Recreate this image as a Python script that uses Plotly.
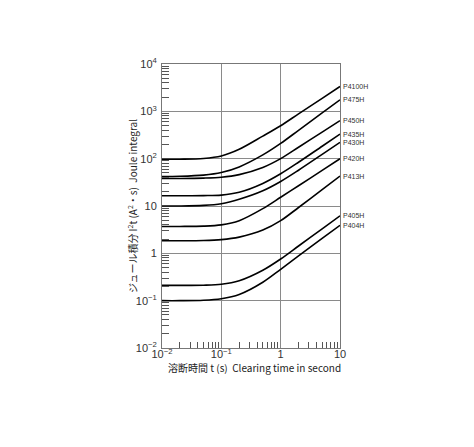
import math
import plotly.graph_objects as go

# clearing time (s)
times = [0.01, 0.02, 0.05, 0.1, 0.2, 0.5, 1, 2, 5, 10]

names = ["P4100H", "P475H", "P450H", "P435H", "P430H", "P420H", "P413H", "P405H", "P404H"]

# Joule integral I2t (A2 s)
p4100h = [97, 97.5, 101, 114, 158, 300, 497, 884, 1885, 3350]
p475h = [42, 42.5, 45, 51, 67, 120, 210, 397, 925, 1750]
p450h = [38, 38.1, 38.8, 40.5, 46, 65, 100, 174, 364, 635]
p435h = [16.5, 16.5, 16.6, 17, 19.5, 30, 48, 84, 183, 330]
p430h = [10, 10, 10.3, 11.2, 13.9, 21, 33, 57, 123, 221]
p420h = [3.7, 3.7, 3.75, 4.0, 4.9, 8.8, 15.3, 26.8, 56.5, 100]
p413h = [1.85, 1.85, 1.87, 1.95, 2.2, 3.1, 4.9, 9.3, 22.2, 43]
p405h = [0.21, 0.21, 0.212, 0.222, 0.264, 0.44, 0.76, 1.43, 3.3, 6.2]
p404h = [0.1, 0.1, 0.102, 0.11, 0.135, 0.245, 0.46, 0.88, 2.07, 3.9]

series = [p4100h, p475h, p450h, p435h, p430h, p420h, p413h, p405h, p404h]

x_tickvals = [0.01, 0.1, 1, 10]
x_ticktext = ["10<sup>−2</sup>", "10<sup>−1</sup>", "1", "10"]
y_tickvals = [0.01, 0.1, 1, 10, 100, 1000, 10000]
y_ticktext = ["10<sup>−2</sup>", "10<sup>−1</sup>", "1", "10", "10<sup>2</sup>", "10<sup>3</sup>", "10<sup>4</sup>"]

x_title = "溶断時間 t (s)  Clearing time in second"
y_title = "ジュール積分 I<sup>2</sup>t (A<sup>2</sup>・s)  Joule integral"

fig = go.Figure()
for name, vals in zip(names, series):
    fig.add_trace(go.Scatter(
        x=times, y=vals, mode="lines", name=name,
        line=dict(color="black", width=1.6, shape="spline", smoothing=0.9),
        showlegend=False, hoverinfo="skip",
    ))
    fig.add_annotation(
        x=math.log10(times[-1]), y=math.log10(vals[-1]), xref="x", yref="y",
        text=name, showarrow=False, xanchor="left", yanchor="middle", xshift=1,
        font=dict(family="Liberation Sans", size=7, color="#333"),
    )

def minor_vals(lo, hi):
    out = []
    for e in range(lo, hi):
        for d in range(2, 10):
            out.append(d * 10 ** e)
    return out

axis_font = dict(family="Liberation Sans, Arial", size=11, color="#333")

fig.update_xaxes(
    type="log", range=[-2, 1],
    tickmode="array", tickvals=x_tickvals, ticktext=x_ticktext,
    tickfont=axis_font, ticks="", ticklabelstandoff=-4,
    showgrid=True, gridcolor="#8a8a8a", gridwidth=1,
    showline=True, linecolor="#777", linewidth=1, mirror=True,
    zeroline=False,
    minor=dict(tickmode="array", tickvals=minor_vals(-2, 1), ticks="inside",
               ticklen=6, tickwidth=1, tickcolor="#555", showgrid=False),
)
fig.update_yaxes(
    type="log", range=[-2, 4],
    tickmode="array", tickvals=y_tickvals, ticktext=y_ticktext,
    tickfont=axis_font, ticks="", ticklabelstandoff=2,
    showgrid=True, gridcolor="#8a8a8a", gridwidth=1,
    showline=True, linecolor="#777", linewidth=1, mirror=True,
    zeroline=False,
    minor=dict(tickmode="array", tickvals=minor_vals(-2, 4), ticks="inside",
               ticklen=7, tickwidth=1, tickcolor="#555", showgrid=False),
)

fig.add_annotation(
    x=0.52, y=-0.067, xref="paper", yref="paper", text=x_title, showarrow=False,
    xanchor="center", yanchor="middle",
    font=dict(family="Noto Sans CJK JP", size=10, color="#222"),
)
fig.add_annotation(
    x=-0.169, y=0.5, xref="paper", yref="paper", text=y_title, showarrow=False,
    textangle=-90, xanchor="center", yanchor="middle",
    font=dict(family="Noto Sans CJK JP", size=10, color="#222"),
)

fig.update_layout(
    width=474, height=447,
    margin=dict(l=154, r=142, t=56, b=107),
    paper_bgcolor="white", plot_bgcolor="white",
)

fig.write_html("out.html")
